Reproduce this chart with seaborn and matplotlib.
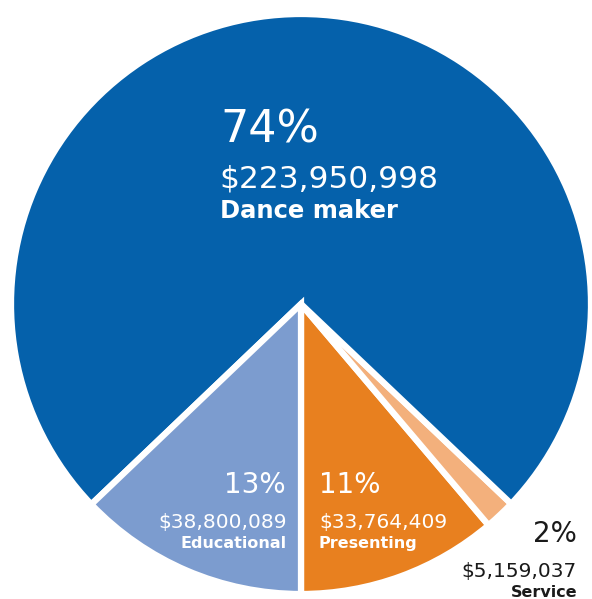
import matplotlib
matplotlib.use("Agg")
import matplotlib.pyplot as plt
import seaborn as sns

# ---- data ----
categories = ["Presenting", "Service", "Dance maker", "Educational"]
amounts = [33764409, 5159037, 223950998, 38800089]
percent_labels = ["11%", "2%", "74%", "13%"]
amount_labels = ["$33,764,409", "$5,159,037", "$223,950,998", "$38,800,089"]
colors = ["#E8801F", "#F3B07C", "#0561AB", "#7C9CCF"]

sns.set_theme(style="white")
plt.rcParams["font.family"] = ["DejaVu Sans"]

W, H = 592, 599
fig = plt.figure(figsize=(W / 100, H / 100), dpi=100)
ax = fig.add_axes([0, 0, 1, 1])

cx, cy, r = 301, 304, 290  # pixel centre and radius
ax.pie(amounts, colors=colors, startangle=-90, counterclock=True,
       radius=1, center=(0, 0),
       wedgeprops=dict(edgecolor="white", linewidth=4.5, joinstyle="miter"))
ax.set_xlim(-cx / r, (W - cx) / r)
ax.set_ylim(-(H - cy) / r, cy / r)
ax.set_aspect("equal")
ax.axis("off")


def put(x, y, s, size, ha="left", weight="normal", color="white"):
    fig.text(x / W, 1 - y / H, s, ha=ha, va="baseline", fontsize=size,
             fontweight=weight, color=color)


# Dance maker
put(220, 143, percent_labels[2], 32)
put(219, 187, amount_labels[2], 22.5)
put(220, 218, categories[2], 17.5, weight="bold")

# Educational
put(286, 493, percent_labels[3], 20, ha="right")
put(287, 528, amount_labels[3], 14.5, ha="right")
put(287, 548, categories[3], 11.5, ha="right", weight="bold")

# Presenting
put(319, 493, percent_labels[0], 20)
put(319, 528, amount_labels[0], 14.5)
put(319, 548, categories[0], 11.5, weight="bold")

# Service
put(577, 542, percent_labels[1], 20, ha="right", color="#1a1a1a")
put(577, 577, amount_labels[1], 14.5, ha="right", color="#1a1a1a")
put(577, 597, categories[1], 11.5, ha="right", weight="bold", color="#1a1a1a")

fig.savefig("out.png", dpi=100)
